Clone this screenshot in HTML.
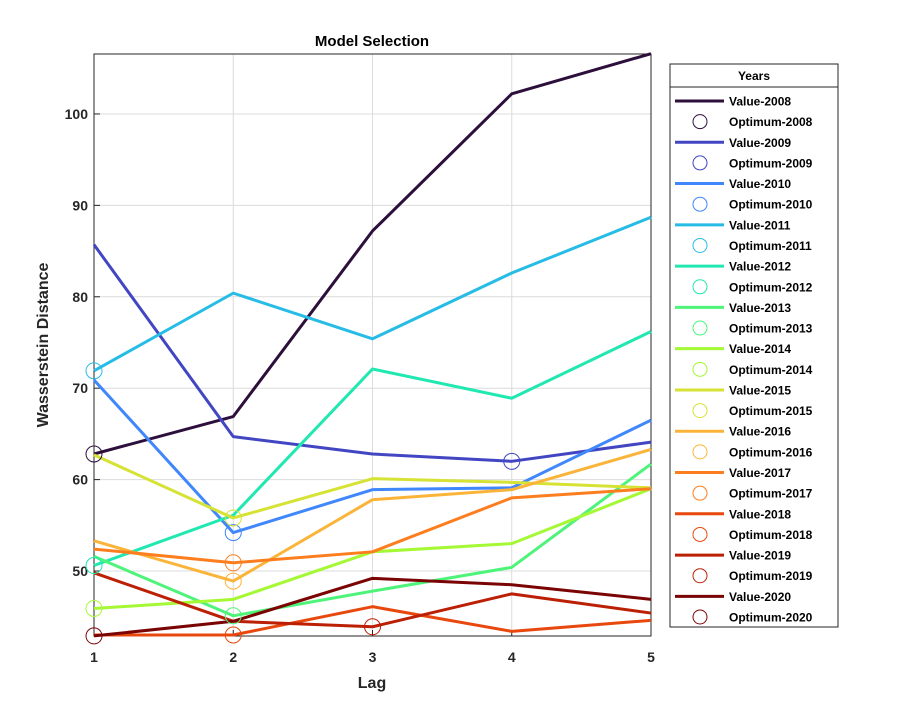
<!DOCTYPE html>
<html><head><meta charset="utf-8"><style>
body{margin:0;background:#fff;}
svg{display:block;font-family:"Liberation Sans",sans-serif;}
</style></head><body>
<svg id="chart" width="908" height="716"></svg>
<script>
const lags=[1,2,3,4,5];
const years=["2008","2009","2010","2011","2012","2013","2014","2015","2016","2017","2018","2019","2020"];
const v2008=[62.8,66.9,87.2,102.2,106.6];
const v2009=[85.7,64.7,62.8,62.0,64.1];
const v2010=[70.9,54.2,58.9,59.1,66.5];
const v2011=[71.9,80.4,75.4,82.6,88.7];
const v2012=[50.6,56.1,72.1,68.9,76.2];
const v2013=[51.6,45.1,47.8,50.4,61.7];
const v2014=[45.9,46.9,52.1,53.0,59.0];
const v2015=[62.7,55.8,60.1,59.7,59.1];
const v2016=[53.3,48.9,57.8,58.9,63.3];
const v2017=[52.4,50.9,52.1,58.0,59.0];
const v2018=[43.0,43.0,46.1,43.4,44.6];
const v2019=[49.8,44.5,43.9,47.5,45.4];
const v2020=[42.9,44.5,49.2,48.5,46.9];
const series=[v2008,v2009,v2010,v2011,v2012,v2013,v2014,v2015,v2016,v2017,v2018,v2019,v2020];
const optimumLag=[1,4,2,1,1,2,1,2,2,2,2,3,1];
const colors=["#2d0f3c","#4246c2","#3f87fb","#27bce6","#20e8b0","#4ef47a","#a4f834","#d6e234","#fbb43a","#fd7e1f","#e8480d","#bb1f04","#7a0403"];
const yTicks=[50,60,70,80,90,100];
const xTicks=[1,2,3,4,5];
const L=94,R=651,T=54,B=636,ymin=42.89,ymax=106.56;
const sx=v=>L+(v-1)*(R-L)/4;
const sy=v=>B-(v-ymin)*(B-T)/(ymax-ymin);
const svg=document.getElementById('chart');
const NS="http://www.w3.org/2000/svg";
function mk(tag,attrs,parent){const e=document.createElementNS(NS,tag);for(const k in attrs)e.setAttribute(k,attrs[k]);(parent||svg).appendChild(e);return e;}
let t=mk('text',{x:372,y:46,'text-anchor':'middle','font-size':15,'font-weight':'bold'});t.textContent='Model Selection';


const grid=mk('g',{});


xTicks.forEach(v=>{mk('line',{x1:sx(v),x2:sx(v),y1:T,y2:B,stroke:'#dcdcdc','stroke-width':1},grid);
 mk('line',{x1:sx(v),x2:sx(v),y1:B,y2:B-6,stroke:'#262626'});
 const l=mk('text',{x:sx(v),y:B+26,'text-anchor':'middle','font-size':14,'font-weight':'bold',fill:'#262626'});l.textContent=v;
 
 });
yTicks.forEach(v=>{mk('line',{x1:L,x2:R,y1:sy(v),y2:sy(v),stroke:'#dcdcdc','stroke-width':1},grid);
 mk('line',{x1:L,x2:L+6,y1:sy(v),y2:sy(v),stroke:'#262626'});
 const l=mk('text',{x:L-6,y:sy(v)+5,'text-anchor':'end','font-size':14,'font-weight':'bold',fill:'#262626'});l.textContent=v;
 
 });
const box=mk('rect',{x:L,y:T,width:R-L,height:B-T,fill:'none',stroke:'#262626','stroke-width':1});


t=mk('text',{x:372,y:688,'text-anchor':'middle','font-size':16,'font-weight':'bold',fill:'#262626'});t.textContent='Lag';


t=mk('text',{x:0,y:0,transform:'translate(48,345) rotate(-90)','text-anchor':'middle','font-size':16,'font-weight':'bold',fill:'#262626'});t.textContent='Wasserstein Distance';


series.forEach((s,i)=>{
 const p=mk('polyline',{points:s.map((v,j)=>sx(lags[j])+','+sy(v)).join(' '),fill:'none',stroke:colors[i],'stroke-width':3,'stroke-linejoin':'round'});
 
 
});
series.forEach((s,i)=>{
 const k=optimumLag[i]-1;
 const c=mk('circle',{cx:sx(lags[k]),cy:sy(s[k]),r:8,fill:'none',stroke:colors[i],'stroke-width':1});
 
 
});
const lg=mk('g',{});


mk('rect',{x:670,y:64,width:168,height:563,fill:'#fff',stroke:'#262626','stroke-width':1},lg);
mk('line',{x1:670,x2:838,y1:87,y2:87,stroke:'#262626','stroke-width':1},lg);
t=mk('text',{x:754,y:80,'text-anchor':'middle','font-size':12,'font-weight':'bold'},lg);t.textContent='Years';


const step=(617-101)/25;
years.forEach((y,i)=>{
 const y1=101+2*i*step,y2=y1+step;
 mk('line',{x1:675,x2:724,y1:y1,y2:y1,stroke:colors[i],'stroke-width':3},lg);
 let e=mk('text',{x:729,y:y1+4.5,'font-size':12,'font-weight':'bold'},lg);e.textContent='Value-'+y;
 
 
 mk('circle',{cx:700,cy:y2,r:7,fill:'none',stroke:colors[i],'stroke-width':1},lg);
 e=mk('text',{x:729,y:y2+4.5,'font-size':12,'font-weight':'bold'},lg);e.textContent='Optimum-'+y;
 
 
});
</script>
</body></html>
